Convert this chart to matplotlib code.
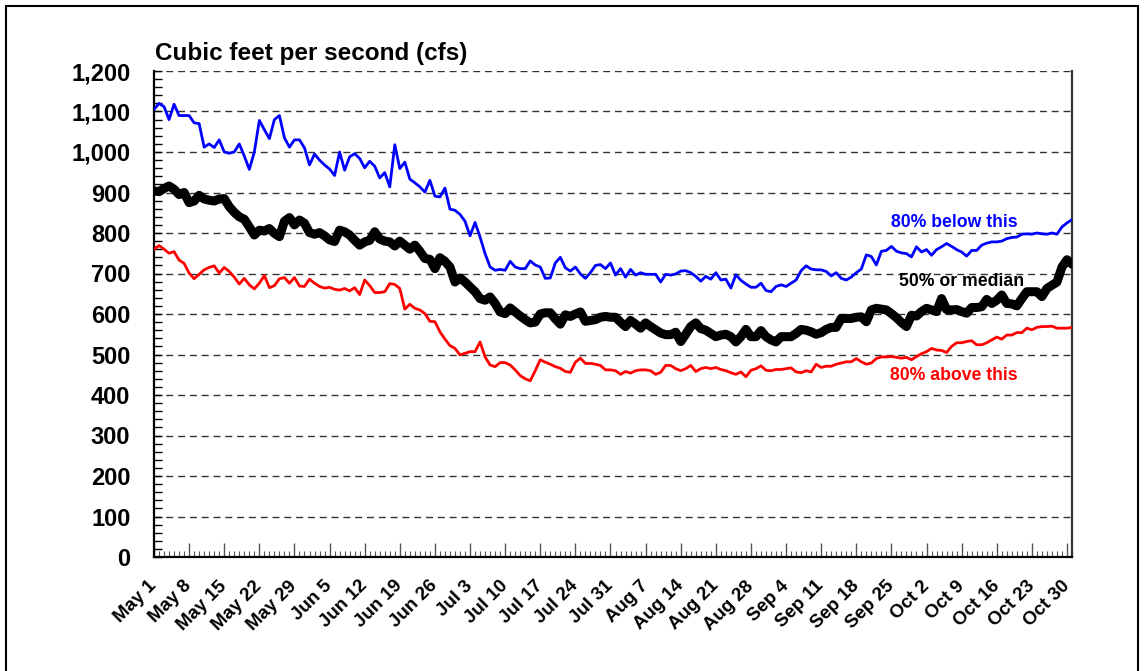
import numpy as np
import pandas as pd
import matplotlib
matplotlib.use('Agg')
import matplotlib.pyplot as plt
from matplotlib.ticker import MultipleLocator
from matplotlib.patches import Rectangle

plt.rcParams['font.family'] = ['Liberation Sans', 'DejaVu Sans']
plt.rcParams['font.weight'] = 'bold'

# daily flow, May 1 - Oct 31 (cfs)
dates = pd.date_range('2023-05-01', '2023-10-31', freq='D')

pct80_below = [1105, 1120, 1112, 1080, 1118, 1090, 1090, 1090, 1072, 1070,
               1012, 1020, 1011, 1030, 1000, 997, 1000, 1020, 990, 957,
               1000, 1078, 1055, 1033, 1080, 1090, 1035, 1012, 1030, 1030,
               1010, 968, 995, 980, 968, 958, 942, 1000, 955, 988,
               996, 984, 961, 977, 965, 936, 949, 914, 1018, 959,
               975, 933, 924, 914, 901, 930, 891, 889, 911, 859,
               856, 846, 829, 793, 826, 790, 749, 716, 708, 710,
               708, 730, 716, 712, 712, 731, 721, 716, 688, 689,
               726, 740, 714, 706, 716, 699, 688, 702, 720, 722,
               712, 726, 696, 712, 691, 710, 696, 702, 698, 698,
               698, 679, 698, 696, 699, 706, 707, 702, 693, 681,
               693, 686, 702, 684, 686, 664, 697, 683, 674, 666,
               666, 676, 658, 655, 668, 672, 668, 676, 684, 707,
               719, 711, 709, 709, 705, 694, 702, 688, 684, 691,
               702, 711, 746, 742, 721, 755, 757, 767, 755, 751,
               749, 741, 766, 753, 759, 745, 759, 766, 774, 767,
               759, 753, 743, 757, 757, 770, 775, 778, 778, 780,
               786, 789, 790, 797, 798, 797, 800, 798, 797, 800,
               797, 815, 825, 833]

median = [904, 902, 910, 916, 908, 895, 900, 875, 879, 893,
          884, 881, 879, 884, 885, 865, 851, 840, 834, 815,
          795, 807, 805, 811, 799, 791, 829, 838, 820, 832,
          824, 801, 797, 801, 793, 783, 779, 807, 803, 795,
          782, 770, 778, 782, 803, 785, 780, 778, 768, 780,
          770, 760, 770, 755, 737, 735, 712, 739, 730, 716,
          679, 689, 679, 667, 655, 638, 634, 642, 626, 605,
          601, 615, 605, 595, 586, 578, 580, 600, 603, 603,
          588, 575, 598, 594, 600, 605, 582, 584, 586, 592,
          594, 592, 592, 580, 569, 584, 575, 565, 578, 569,
          561, 553, 549, 549, 555, 532, 550, 569, 578, 564,
          560, 552, 544, 548, 550, 544, 531, 544, 562, 544,
          544, 559, 544, 536, 531, 544, 544, 544, 552, 562,
          560, 556, 550, 554, 562, 567, 567, 589, 589, 589,
          592, 593, 581, 610, 614, 612, 610, 601, 591, 579,
          569, 597, 595, 606, 614, 610, 606, 638, 611, 610,
          611, 606, 602, 616, 616, 618, 636, 626, 634, 647,
          626, 625, 620, 638, 655, 655, 655, 643, 663, 671,
          679, 716, 734, 723]

pct80_above = [760, 769, 760, 750, 754, 733, 725, 701, 687, 698,
               709, 715, 719, 701, 715, 705, 691, 674, 688, 672,
               662, 676, 695, 665, 670, 687, 690, 676, 690, 669,
               668, 686, 676, 668, 664, 666, 661, 659, 663, 657,
               665, 648, 684, 670, 653, 653, 655, 675, 673, 663,
               612, 624, 614, 610, 601, 582, 581, 556, 538, 522,
               515, 499, 503, 507, 507, 531, 494, 474, 470, 480,
               480, 474, 462, 448, 440, 435, 460, 487, 481, 476,
               470, 466, 458, 456, 481, 491, 478, 478, 476, 473,
               462, 462, 460, 451, 458, 454, 460, 462, 462, 460,
               451, 456, 473, 473, 465, 460, 465, 473, 458, 465,
               468, 465, 468, 463, 460, 455, 451, 457, 445, 461,
               465, 472, 461, 460, 463, 463, 465, 467, 457, 455,
               460, 457, 476, 468, 471, 471, 476, 479, 482, 482,
               490, 482, 476, 479, 490, 494, 494, 495, 493, 491,
               493, 487, 495, 502, 507, 515, 511, 510, 505, 520,
               529, 529, 532, 534, 524, 524, 529, 536, 543, 538,
               548, 548, 554, 554, 565, 561, 567, 569, 569, 570,
               565, 565, 565, 567]

x = np.arange(len(dates))
tick_pos = x[::7]
tick_labels = [d.strftime('%b ') + str(d.day) for d in dates[::7]]

fig = plt.figure(figsize=(11.44, 6.71), dpi=100)
ax = fig.add_axes([154/1144, 1 - 557/671, (1072-154)/1144, (557-71)/671])

ax.plot(x, pct80_below, color='#0000ff', lw=2.0, zorder=3)
ax.plot(x, pct80_above, color='#ff0000', lw=2.0, zorder=3)
ax.plot(x, median, color='black', lw=6.5, zorder=4, solid_joinstyle='round',
        solid_capstyle='round')

ax.set_xlim(0, len(dates) - 1)
ax.set_ylim(0, 1200)
ax.yaxis.set_major_locator(MultipleLocator(100))
ax.yaxis.set_minor_locator(MultipleLocator(20))
ax.set_yticklabels(['{:,}'.format(int(v)) for v in ax.get_yticks()])
ax.set_xticks(tick_pos)
ax.set_xticks(x, minor=True)
ax.set_xticklabels(tick_labels, rotation=45, ha='right', va='center',
                   rotation_mode='anchor', fontsize=13.5, fontweight='bold')

ax.grid(axis='y', which='major', color='#333333', linestyle=(0, (5, 3.5)), lw=1.0)
ax.set_axisbelow(True)

ax.tick_params(axis='y', which='both', direction='in', length=6, width=1,
               labelsize=17, pad=17)
ax.tick_params(axis='x', which='major', direction='in', length=10, width=1,
               pad=19, color='#555555')
ax.tick_params(axis='x', which='minor', direction='in', length=4, width=0.8,
               color='#555555')
ax.spines['top'].set_visible(False)
for s in ['left', 'bottom', 'right']:
    ax.spines[s].set_linewidth(1.6)
ax.spines['right'].set_color('#333333')

fig.text(155/1144, 1 - 60/671, 'Cubic feet per second (cfs)', fontsize=17.5,
         fontweight='bold', ha='left', va='baseline')

ax.text(159.5, 827, '80% below this', color='#0000ff', fontsize=12.7,
        fontweight='bold', ha='center', va='center')
ax.text(161, 681, '50% or median', color='black', fontsize=12.7,
        fontweight='bold', ha='center', va='center')
ax.text(159.5, 449, '80% above this', color='#ff0000', fontsize=12.7,
        fontweight='bold', ha='center', va='center')

# outer frame
fig.patches.append(Rectangle((6/1144, -0.01), 1132/1144, 1.01 - 6/671,
                             transform=fig.transFigure, fill=False,
                             edgecolor='black', lw=1.5))

fig.savefig('out.png', dpi=100)
